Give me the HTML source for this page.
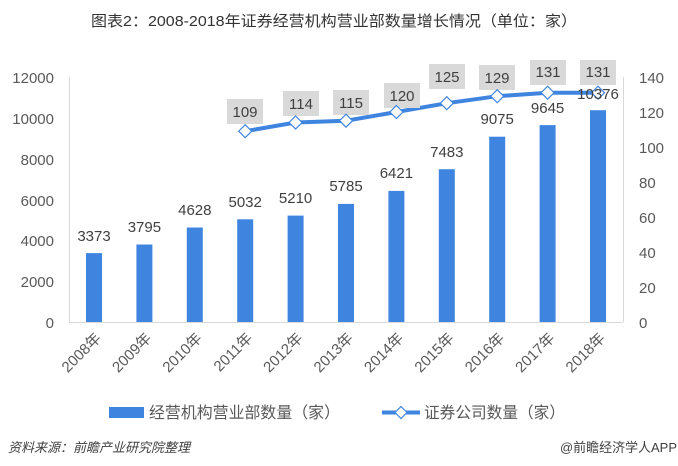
<!DOCTYPE html>
<html><head><meta charset="utf-8"><style>
html,body{margin:0;padding:0;background:#fff;}
svg{display:block;font-family:"Liberation Sans","Noto Sans CJK SC",sans-serif;}
</style></head><body>
<svg width="678" height="466" viewBox="0 0 678 466" xmlns="http://www.w3.org/2000/svg">
<text x="91" y="26" font-size="15" fill="#333" textLength="486" lengthAdjust="spacingAndGlyphs">图表2：2008-2018年证券经营机构营业部数量增长情况（单位：家）</text>
<line x1="69.5" y1="77" x2="69.5" y2="322" stroke="#d9d9d9"/>
<line x1="69" y1="322.5" x2="623" y2="322.5" stroke="#d9d9d9"/>
<line x1="623.5" y1="77" x2="623.5" y2="322" stroke="#d9d9d9"/>
<g font-size="15" fill="#595959" text-anchor="end">
<text x="54" y="83">12000</text><text x="54" y="124">10000</text><text x="54" y="165">8000</text><text x="54" y="206">6000</text><text x="54" y="246">4000</text><text x="54" y="287">2000</text><text x="54" y="328">0</text>
</g>
<g font-size="15" fill="#595959" text-anchor="start">
<text x="639" y="83">140</text><text x="639" y="118">120</text><text x="639" y="153">100</text><text x="639" y="188">80</text><text x="639" y="223">60</text><text x="639" y="258">40</text><text x="639" y="293">20</text><text x="639" y="328">0</text>
</g>
<g fill="#3f85e0">
<rect x="86" y="253.1" width="16" height="68.9"/>
<rect x="136.4" y="244.5" width="16" height="77.5"/>
<rect x="186.8" y="227.5" width="16" height="94.5"/>
<rect x="237.2" y="219.3" width="16" height="102.7"/>
<rect x="287.6" y="215.6" width="16" height="106.4"/>
<rect x="338" y="203.9" width="16" height="118.1"/>
<rect x="388.4" y="190.9" width="16" height="131.1"/>
<rect x="438.8" y="169.2" width="16" height="152.8"/>
<rect x="489.2" y="136.7" width="16" height="185.3"/>
<rect x="539.6" y="125.1" width="16" height="196.9"/>
<rect x="590" y="110.2" width="16" height="211.8"/>
</g>
<g font-size="15" fill="#404040" text-anchor="middle">
<text x="94" y="241">3373</text><text x="144.4" y="232">3795</text><text x="194.8" y="215">4628</text><text x="245.2" y="207">5032</text><text x="295.6" y="203">5210</text><text x="346" y="191">5785</text><text x="396.4" y="178">6421</text><text x="446.8" y="157">7483</text><text x="497.2" y="124">9075</text><text x="547.6" y="113">9645</text>
</g>
<polyline points="245.2,131.2 295.6,122.5 346,120.7 396.4,112 446.8,103.2 497.2,96.2 547.6,92.7 598,92.7" fill="none" stroke="#3f85e0" stroke-width="4"/>
<g fill="#d9d9d9">
<rect x="227" y="99" width="36" height="25"/><rect x="283" y="91" width="36" height="25"/><rect x="333" y="90" width="36" height="25"/><rect x="384" y="83" width="36" height="25"/><rect x="429" y="64" width="36" height="25"/><rect x="479" y="65" width="36" height="25"/><rect x="530" y="60" width="36" height="25"/><rect x="580" y="60" width="36" height="25"/>
</g>
<g fill="#fff" stroke="#3f85e0" stroke-width="1.2">
<path d="M245.2 124.7 L251.7 131.2 L245.2 137.7 L238.7 131.2Z"/>
<path d="M295.6 116 L302.1 122.5 L295.6 129 L289.1 122.5Z"/>
<path d="M346 114.2 L352.5 120.7 L346 127.2 L339.5 120.7Z"/>
<path d="M396.4 105.5 L402.9 112 L396.4 118.5 L389.9 112Z"/>
<path d="M446.8 96.7 L453.3 103.2 L446.8 109.7 L440.3 103.2Z"/>
<path d="M497.2 89.7 L503.7 96.2 L497.2 102.7 L490.7 96.2Z"/>
<path d="M547.6 86.2 L554.1 92.7 L547.6 99.2 L541.1 92.7Z"/>
<path d="M598 86.2 L604.5 92.7 L598 99.2 L591.5 92.7Z"/>
</g>
<g font-size="15" fill="#404040" text-anchor="middle">
<text x="245" y="117">109</text><text x="301" y="109">114</text><text x="351" y="108">115</text><text x="402" y="101">120</text><text x="447" y="82">125</text><text x="497" y="83">129</text><text x="548" y="77">131</text><text x="598" y="77">131</text>
<text x="598" y="99">10376</text>
</g>
<g font-size="15" fill="#595959" text-anchor="end">
<text transform="translate(102,339) rotate(-45)">2008年</text>
<text transform="translate(152.4,339) rotate(-45)">2009年</text>
<text transform="translate(202.8,339) rotate(-45)">2010年</text>
<text transform="translate(253.2,339) rotate(-45)">2011年</text>
<text transform="translate(303.6,339) rotate(-45)">2012年</text>
<text transform="translate(354,339) rotate(-45)">2013年</text>
<text transform="translate(404.4,339) rotate(-45)">2014年</text>
<text transform="translate(454.8,339) rotate(-45)">2015年</text>
<text transform="translate(505.2,339) rotate(-45)">2016年</text>
<text transform="translate(555.6,339) rotate(-45)">2017年</text>
<text transform="translate(606,339) rotate(-45)">2018年</text>
</g>
<rect x="109" y="407" width="35" height="11" fill="#3f85e0"/>
<text x="149" y="418" font-size="16" fill="#595959" textLength="191" lengthAdjust="spacingAndGlyphs">经营机构营业部数量（家）</text>
<line x1="382" y1="412.5" x2="420" y2="412.5" stroke="#3f85e0" stroke-width="4"/>
<path d="M401 406.5 L407 412.5 L401 418.5 L395 412.5Z" fill="#fff" stroke="#3f85e0" stroke-width="1.2"/>
<text x="424" y="418" font-size="16" fill="#595959" textLength="141" lengthAdjust="spacingAndGlyphs">证券公司数量（家）</text>
<text x="8" y="452" font-size="13" font-style="italic" fill="#404040" textLength="182" lengthAdjust="spacingAndGlyphs">资料来源：前瞻产业研究院整理</text>
<text x="560" y="452" font-size="13" fill="#404040" textLength="117" lengthAdjust="spacingAndGlyphs">@前瞻经济学人APP</text>
</svg>
</body></html>
